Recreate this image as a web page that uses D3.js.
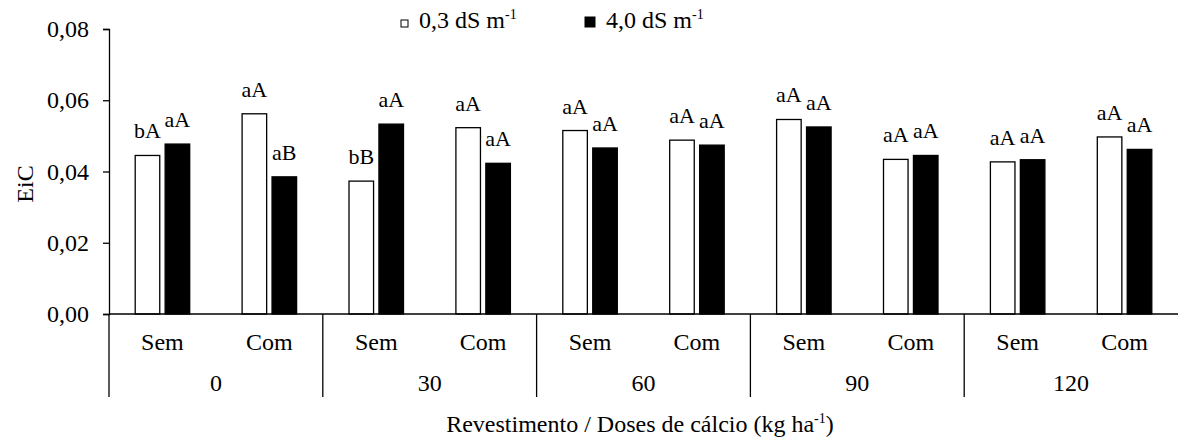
<!DOCTYPE html>
<html>
<head>
<meta charset="utf-8">
<script src="https://cdn.jsdelivr.net/npm/d3@7"></script>
<style>
  body { margin: 0; background: #fff; }
  svg text { font-family: "Times New Roman", Times, "Liberation Serif", "DejaVu Serif", serif; fill: #000; }
</style>
</head>
<body>
<div id="chart"></div>
<script>
// Data
let doses = ['0', '30', '60', '90', '120']
let coatings = ['Sem', 'Com']
let series = ['0,3 dS m', '4,0 dS m']
// EiC values, one per dose x coating (Sem, Com pairs)
let low = [0.0445, 0.0562, 0.0373, 0.0523, 0.0515, 0.0488, 0.0546, 0.0434, 0.0427, 0.0497]
let high = [0.0477, 0.0385, 0.0533, 0.0423, 0.0466, 0.0474, 0.0525, 0.0445, 0.0433, 0.0462]
let lowLetters = ['bA', 'aA', 'bB', 'aA', 'aA', 'aA', 'aA', 'aA', 'aA', 'aA']
let highLetters = ['aA', 'aB', 'aA', 'aA', 'aA', 'aA', 'aA', 'aA', 'aA', 'aA']
let yTicks = [0, 0.02, 0.04, 0.06, 0.08]

let svgWidth = 1178, svgHeight = 441
let margin = { top: 29, right: 0, bottom: 127, left: 109 }
let width = svgWidth - margin.left - margin.right
let height = svgHeight - margin.top - margin.bottom
let fontSize = 24
let labelSize = 22

// flatten into rows
let rows = []
doses.forEach((d, i) => coatings.forEach((c, j) => {
    let k = i * 2 + j
    rows.push({ dose: d, coat: c, key: d + '|' + c, vals: [low[k], high[k]], letters: [lowLetters[k], highLetters[k]] })
}))

let svg = d3.select('#chart')
    .append('svg')
    .attr('width', svgWidth)
    .attr('height', svgHeight)

let g = svg.append('g')
    .attr('transform', 'translate(' + margin.left + ',' + margin.top + ')')

// scales
let xGroup = d3.scaleBand().domain(doses).range([0, width])
let xCat = d3.scaleBand().domain(rows.map(r => r.key)).range([0, width])
let xBar = d3.scaleBand().domain([0, 1]).range([0, xCat.bandwidth()])
    .paddingInner(0.18).paddingOuter(0.875)
let y = d3.scaleLinear().domain([0, 0.08]).range([height, 0])

let locale = d3.formatLocale({ decimal: ',', thousands: '.', grouping: [3], currency: ['', ''] })

// Y axis
let yAxis = g.append('g')
    .call(d3.axisLeft(y).tickValues(yTicks).tickFormat(locale.format('.2f')).tickSizeOuter(0).tickSize(6).tickPadding(14))
yAxis.attr('font-family', null)
yAxis.selectAll('path, line').attr('stroke', '#000').attr('stroke-width', 1.3)
yAxis.selectAll('text').attr('font-size', fontSize)

// Y title
g.append('text')
    .attr('transform', 'translate(' + (25 - margin.left) + ',' + (184 - margin.top) + ') rotate(-90)')
    .attr('text-anchor', 'middle')
    .attr('dy', '0.35em')
    .attr('font-size', fontSize)
    .text('EiC')

// bars
let cat = g.selectAll('.cat')
    .data(rows)
    .enter().append('g')
    .attr('transform', d => 'translate(' + xCat(d.key) + ',0)')

cat.selectAll('rect')
    .data(d => d.vals.map((v, i) => ({ v: v, i: i })))
    .enter().append('rect')
    .attr('x', d => xBar(d.i))
    .attr('y', d => y(d.v))
    .attr('width', xBar.bandwidth())
    .attr('height', d => height - y(d.v))
    .attr('fill', d => d.i === 0 ? '#fff' : '#000')
    .attr('stroke', '#000')
    .attr('stroke-width', 1.3)

cat.selectAll('.lab')
    .data(d => d.vals.map((v, i) => ({ v: v, i: i, t: d.letters[i] })))
    .enter().append('text')
    .attr('x', d => xBar(d.i) + xBar.bandwidth() / 2)
    .attr('y', d => y(d.v) - 17)
    .attr('text-anchor', 'middle')
    .attr('font-size', labelSize)
    .text(d => d.t)

// x axis line
g.append('line')
    .attr('x1', 0).attr('x2', width)
    .attr('y1', height).attr('y2', height)
    .attr('stroke', '#000').attr('stroke-width', 1.3)

// coating labels
g.selectAll('.coat')
    .data(rows)
    .enter().append('text')
    .attr('x', d => xCat(d.key) + xCat.bandwidth() / 2)
    .attr('y', height + 36)
    .attr('text-anchor', 'middle')
    .attr('font-size', fontSize)
    .text(d => d.coat)

// dose labels
g.selectAll('.dose')
    .data(doses)
    .enter().append('text')
    .attr('x', d => xGroup(d) + xGroup.bandwidth() / 2)
    .attr('y', height + 77)
    .attr('text-anchor', 'middle')
    .attr('font-size', fontSize)
    .text(d => d)

// group separators
g.selectAll('.sep')
    .data(doses)
    .enter().append('line')
    .attr('x1', d => xGroup(d)).attr('x2', d => xGroup(d))
    .attr('y1', height).attr('y2', height + 83)
    .attr('stroke', '#000').attr('stroke-width', 1.3)

// X title
let xt = svg.append('text')
    .attr('x', 640)
    .attr('y', 432)
    .attr('text-anchor', 'middle')
    .attr('font-size', fontSize)
xt.append('tspan').text('Revestimento / Doses de cálcio (kg ha')
xt.append('tspan').attr('font-size', 14).attr('dy', -9).text('-1')
xt.append('tspan').attr('dy', 9).text(')')

// legend
let legX = [401, 585]
let legSize = [7, 10]
series.forEach((s, i) => {
    let lg = svg.append('g').attr('transform', 'translate(' + legX[i] + ',0)')
    lg.append('rect')
        .attr('y', 27 - legSize[i])
        .attr('width', legSize[i]).attr('height', legSize[i])
        .attr('fill', i === 0 ? '#fff' : '#000')
        .attr('stroke', '#000').attr('stroke-width', 1)
    let t = lg.append('text').attr('x', legSize[i] + 11).attr('y', 28).attr('font-size', fontSize)
    t.append('tspan').text(s)
    t.append('tspan').attr('font-size', 14).attr('dy', -9).text('-1')
})
</script>
</body>
</html>
